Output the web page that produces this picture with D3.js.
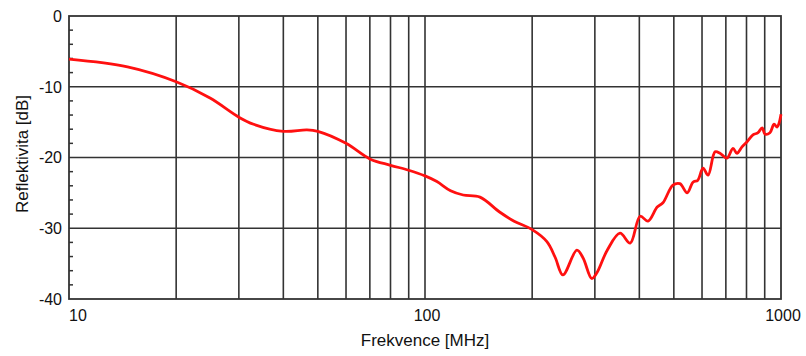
<!DOCTYPE html>
<html>
<head>
<meta charset="utf-8">
<script src="https://cdn.jsdelivr.net/npm/d3@7"></script>
<style>
body { margin: 0; background: #fff; }
svg { display: block; }
</style>
</head>
<body>
<svg id="svg_main" width="806" height="356"></svg>
<script>
// frekvence [MHz] a reflektivita [dB]
var freq = [10, 14.6, 20, 24.9, 30, 33, 40, 46.6, 50, 60, 70, 80, 90, 100,
	108, 118, 128, 142.7, 162, 178, 200, 220, 232, 244, 267, 278, 294, 304, 325,
	353, 377, 402, 423, 449, 466, 497, 520, 545, 566, 584, 604, 624, 653, 674, 705,
	733, 752, 777, 802, 834, 862, 885, 902, 931, 956, 975, 987, 1000];
var refl = [-6.1, -7.2, -9.3, -11.6, -14.3, -15.3, -16.3, -16.1, -16.3, -18.0, -20.2, -21.1, -21.8, -22.6,
	-23.4, -24.7, -25.3, -25.6, -27.7, -29.0, -30.2, -31.9, -34.1, -36.6, -33.1, -34.2, -37.1, -36.3, -33.1,
	-30.7, -32.1, -28.3, -29.0, -27.0, -26.4, -23.9, -23.7, -25.0, -23.5, -23.2, -21.5, -22.5, -19.2, -19.4, -20.1,
	-18.7, -19.4, -18.5, -17.8, -16.8, -16.5, -15.8, -16.7, -16.5, -15.3, -15.7, -15.2, -13.9];
var yTicks = [0, -10, -20, -30, -40];
var xLabels = [10, 100, 1000];
var xGridVals = [20, 30, 40, 50, 60, 70, 80, 90, 200, 300, 400, 500, 600, 700, 800, 900];

var margin = { top: 16, right: 25, bottom: 57, left: 69 };

function main() {
	var svg = d3.select("#svg_main");
	var width = 806 - margin.left - margin.right,
		height = 356 - margin.top - margin.bottom;

	var g = svg.append("g")
		.attr("transform", `translate(${margin.left}, ${margin.top})`);

	var x = d3.scaleLog().domain([10, 1000]).range([0, width]),
		y = d3.scaleLinear().domain([-40, 0]).range([height, 0]);

	var data = freq.map((f, i) => ({ f: f, v: refl[i] }));

	// mrizka
	var grid = g.append("g").attr("class", "grid")
		.attr("stroke", "#333")
		.attr("stroke-width", 1.6);
	grid.selectAll(".vx")
		.data(xGridVals.concat([100]))
		.enter().append("line")
		.attr("x1", d => x(d)).attr("x2", d => x(d))
		.attr("y1", 0).attr("y2", height);
	grid.selectAll(".hy")
		.data([-10, -20, -30])
		.enter().append("line")
		.attr("x1", 0).attr("x2", width)
		.attr("y1", d => y(d)).attr("y2", d => y(d));

	// ramecek
	g.append("rect")
		.attr("width", width)
		.attr("height", height)
		.attr("fill", "none")
		.attr("stroke", "#333")
		.attr("stroke-width", 1.8);

	// male znacky na ose y
	var minor = d3.range(-40, 0.1, 2).filter(d => d % 10 != 0);
	g.append("g").selectAll("line")
		.data(minor)
		.enter().append("line")
		.attr("x1", 0).attr("x2", 4)
		.attr("y1", d => y(d)).attr("y2", d => y(d))
		.attr("stroke", "#333")
		.attr("stroke-width", 1.5);

	// krivka
	var line = d3.line()
		.x(d => x(d.f))
		.y(d => y(d.v))
		.curve(d3.curveCatmullRom.alpha(0.5));
	g.append("path")
		.datum(data)
		.attr("fill", "none")
		.attr("stroke", "#ff1010")
		.attr("stroke-width", 2.8)
		.attr("stroke-linejoin", "round")
		.attr("d", line);

	// popisky
	var font = "'Liberation Sans', Arial, sans-serif";
	g.append("g").selectAll("text")
		.data(yTicks)
		.enter().append("text")
		.attr("x", -7)
		.attr("y", d => y(d))
		.attr("dy", "0.36em")
		.attr("text-anchor", "end")
		.attr("font-family", font)
		.attr("font-size", "16px")
		.attr("fill", "#111")
		.text(d => d);
	g.append("g").selectAll("text")
		.data(xLabels)
		.enter().append("text")
		.attr("x", d => d == 10 ? x(d) : x(d) + 2)
		.attr("y", height + 22)
		.attr("text-anchor", d => d == 10 ? "start" : "middle")
		.attr("font-family", font)
		.attr("font-size", "16px")
		.attr("fill", "#111")
		.text(d => d);

	g.append("text")
		.attr("x", width / 2)
		.attr("y", height + 47)
		.attr("text-anchor", "middle")
		.attr("font-family", font)
		.attr("font-size", "17px")
		.attr("fill", "#111")
		.text("Frekvence [MHz]");
	g.append("text")
		.attr("transform", `translate(${-41}, ${y(-19.5)}) rotate(-90)`)
		.attr("text-anchor", "middle")
		.attr("font-family", font)
		.attr("font-size", "17px")
		.attr("fill", "#111")
		.text("Reflektivita [dB]");
}

main();
</script>
</body>
</html>
